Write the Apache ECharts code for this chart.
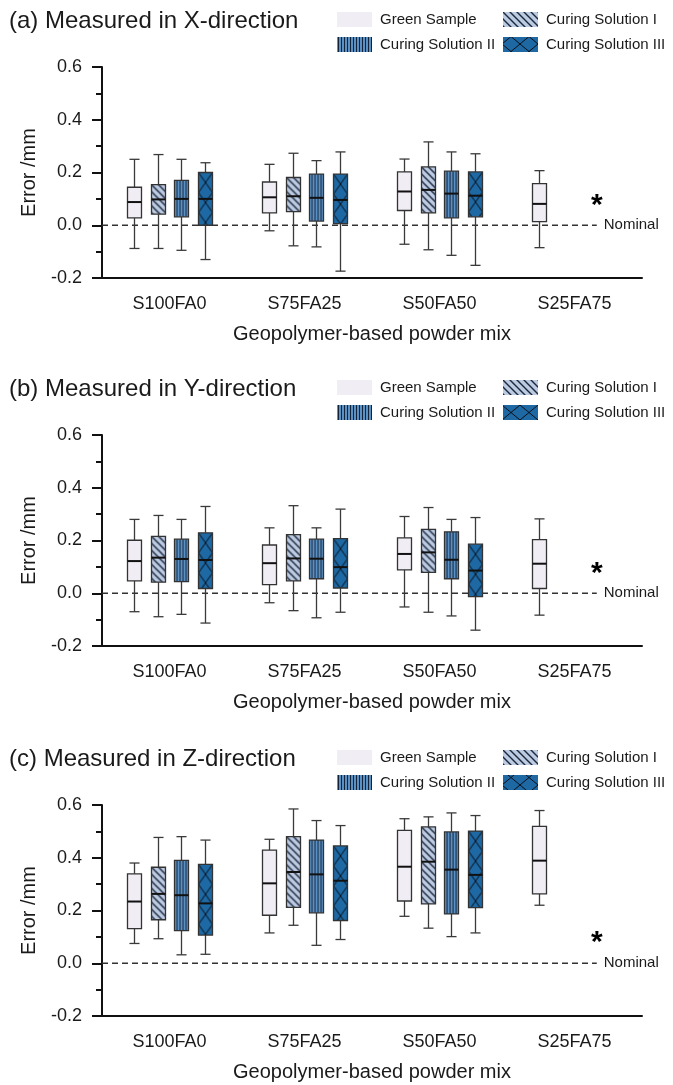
<!DOCTYPE html>
<html>
<head>
<meta charset="utf-8">
<script src="https://cdn.jsdelivr.net/npm/echarts@6/dist/echarts.min.js"></script>
<style>
  html, body {margin: 0; padding: 0; background: #fff;}
  #chart {width: 673px; height: 1085px;}
</style>
</head>
<body>
<div id="chart"></div>
<script>
const categories = ['S100FA0', 'S75FA25', 'S50FA50', 'S25FA75'];
const seriesNames = ['Green Sample', 'Curing Solution I', 'Curing Solution II', 'Curing Solution III'];
const panelTitles = ['(a) Measured in X-direction', '(b) Measured in Y-direction', '(c) Measured in Z-direction'];
const yTicks = [-0.2, 0.6, 0.2];

// [min, Q1, median, Q3, max]
const xGreen = [[-0.088, 0.028, 0.088, 0.144, 0.250], [-0.021, 0.047, 0.106, 0.164, 0.231], [-0.072, 0.056, 0.128, 0.202, 0.251], [-0.085, 0.014, 0.081, 0.158, 0.207]];
const xSolI = [[-0.088, 0.042, 0.098, 0.154, 0.268], [-0.078, 0.052, 0.110, 0.181, 0.273], [-0.093, 0.047, 0.134, 0.221, 0.316]];
const xSolII = [[-0.095, 0.032, 0.100, 0.170, 0.250], [-0.082, 0.016, 0.104, 0.194, 0.245], [-0.114, 0.028, 0.120, 0.205, 0.278]];
const xSolIII = [[-0.130, 0.000, 0.100, 0.200, 0.237], [-0.174, 0.006, 0.096, 0.194, 0.278], [-0.152, 0.032, 0.112, 0.202, 0.271]];

const yGreen = [[-0.070, 0.047, 0.122, 0.201, 0.280], [-0.036, 0.033, 0.114, 0.183, 0.248], [-0.052, 0.089, 0.149, 0.210, 0.291], [-0.083, 0.018, 0.112, 0.203, 0.282]];
const ySolI = [[-0.089, 0.042, 0.135, 0.216, 0.295], [-0.066, 0.047, 0.132, 0.222, 0.332], [-0.072, 0.079, 0.155, 0.242, 0.325]];
const ySolII = [[-0.080, 0.044, 0.130, 0.205, 0.280], [-0.093, 0.055, 0.131, 0.205, 0.248], [-0.086, 0.055, 0.127, 0.233, 0.280]];
const ySolIII = [[-0.113, 0.018, 0.126, 0.229, 0.329], [-0.072, 0.020, 0.099, 0.207, 0.319], [-0.140, -0.013, 0.086, 0.186, 0.287]];

const zGreen = [[0.075, 0.131, 0.234, 0.339, 0.380], [0.115, 0.182, 0.303, 0.429, 0.470], [0.178, 0.236, 0.366, 0.504, 0.548], [0.220, 0.263, 0.389, 0.519, 0.579]];
const zSolI = [[0.093, 0.165, 0.263, 0.364, 0.477], [0.144, 0.212, 0.346, 0.480, 0.585], [0.133, 0.225, 0.385, 0.517, 0.555]];
const zSolII = [[0.032, 0.124, 0.258, 0.390, 0.480], [0.068, 0.191, 0.337, 0.467, 0.541], [0.101, 0.187, 0.355, 0.498, 0.570]];
const zSolIII = [[0.034, 0.107, 0.227, 0.375, 0.467], [0.090, 0.162, 0.313, 0.445, 0.522], [0.115, 0.211, 0.335, 0.501, 0.560]];

// height of the "*" mark at S25FA75 in each panel
const starValues = [0.10, 0.10, 0.105];

const panelData = [
    [xGreen, xSolI, xSolII, xSolIII],
    [yGreen, ySolI, ySolII, ySolIII],
    [zGreen, zSolI, zSolII, zSolIII]
];

const gridTops = [67, 435, 805];
const font = "'Liberation Sans', Arial, sans-serif";
const textColor = '#1a1a1a';
const fills = ['#f1edf4', '#bccbe4', '#5b90c3', '#1e68a3'];

function makeCanvas(w, h, bg, draw) {
    let c = document.createElement('canvas');
    c.width = w;
    c.height = h;
    let ctx = c.getContext('2d');
    ctx.fillStyle = bg;
    ctx.fillRect(0, 0, w, h);
    ctx.strokeStyle = '#111a26';
    ctx.lineWidth = 1;
    draw(ctx);
    return c;
}

const diagCanvas = makeCanvas(7, 7, fills[1], ctx => {
    ctx.strokeStyle = '#1f2838';
    ctx.lineWidth = 1.4;
    ctx.beginPath();
    ctx.moveTo(-1, -1); ctx.lineTo(8, 8);
    ctx.moveTo(-1, 6); ctx.lineTo(1, 8);
    ctx.moveTo(6, -1); ctx.lineTo(8, 1);
    ctx.stroke();
});
const vertCanvas = makeCanvas(3, 4, fills[2], ctx => {
    ctx.fillStyle = '#13233a';
    ctx.fillRect(0, 0, 1, 4);
});
function crossCanvas(w, h) {
    return makeCanvas(w, h, fills[3], ctx => {
        ctx.strokeStyle = '#0a0f18';
        ctx.beginPath();
        ctx.moveTo(0, 0); ctx.lineTo(w, h);
        ctx.moveTo(w, 0); ctx.lineTo(0, h);
        ctx.stroke();
    });
}
const boxCross = crossCanvas(14, 20);
const legendCross = crossCanvas(18, 15);

function boxFill(slot, x, y) {
    if (slot === 0) return fills[0];
    if (slot === 1) return {image: diagCanvas, repeat: 'repeat', x: x, y: y};
    if (slot === 2) return {image: vertCanvas, repeat: 'repeat', x: x + 2, y: y};
    return {image: boxCross, repeat: 'repeat', x: x, y: y};
}

function boxRender(slot) {
    return function (params, api) {
        let cat = api.value(0);
        let band = api.size([1, 0])[0];
        let cx = Math.round(api.coord([cat, 0])[0] + (slot - 1.5) * band * 0.174) + 0.5;
        let bw = Math.round(band * 0.104);
        let y = i => api.coord([cat, api.value(i)])[1];
        let yMin = y(1), yQ1 = y(2), yMed = y(3), yQ3 = y(4), yMax = y(5);
        let cap = bw * 0.72;
        let left = cx - bw / 2;
        let line = {stroke: '#3a3a3a', lineWidth: 1.3};
        return {
            type: 'group',
            children: [
                {type: 'line', shape: {x1: cx, y1: yMax, x2: cx, y2: yQ3}, style: line},
                {type: 'line', shape: {x1: cx, y1: yQ1, x2: cx, y2: yMin}, style: line},
                {type: 'line', shape: {x1: cx - cap / 2, y1: yMax, x2: cx + cap / 2, y2: yMax}, style: line},
                {type: 'line', shape: {x1: cx - cap / 2, y1: yMin, x2: cx + cap / 2, y2: yMin}, style: line},
                {
                    type: 'rect',
                    shape: {x: left, y: yQ3, width: bw, height: yQ1 - yQ3},
                    style: {fill: boxFill(slot, left, yQ3), stroke: '#333', lineWidth: 1.3}
                },
                {type: 'line', shape: {x1: left, y1: yMed, x2: left + bw, y2: yMed}, style: {stroke: '#111', lineWidth: 2}}
            ]
        };
    };
}

function noteRender(params, api) {
    let band = api.size([1, 0])[0];
    let last = categories.length - 1;
    let x0 = api.coord([0, 0])[0] - band / 2;
    let p = api.coord([last, 0]);
    let xEnd = p[0] + band * 0.165;
    let star = api.coord([last, api.value(1)]);
    return {
        type: 'group',
        children: [
            {
                type: 'line',
                shape: {x1: x0, y1: p[1], x2: xEnd, y2: p[1]},
                style: {stroke: '#333', lineWidth: 1.3, lineDash: [6, 4]}
            },
            {
                type: 'text',
                x: xEnd + 7, y: p[1],
                style: {text: 'Nominal', fill: textColor, font: '15px ' + font, textVerticalAlign: 'middle', verticalAlign: 'middle'}
            },
            {
                type: 'text',
                x: star[0] + band * 0.165, y: star[1] + 7,
                style: {text: '*', fill: '#000', font: 'bold 30px ' + font, align: 'center', textAlign: 'center', verticalAlign: 'middle', textVerticalAlign: 'middle'}
            }
        ]
    };
}

let grids = [], xAxes = [], yAxes = [], titles = [], legends = [], series = [];

gridTops.forEach((top, p) => {
    grids.push({left: 102, right: 31, top: top, height: 211});
    titles.push({
        text: panelTitles[p], left: 9, top: top - 58, padding: 0,
        textStyle: {fontFamily: font, fontSize: 24, fontWeight: 'normal', color: textColor}
    });
    xAxes.push({
        type: 'category', gridIndex: p, data: categories,
        name: 'Geopolymer-based powder mix', nameLocation: 'middle', nameGap: 46,
        nameTextStyle: {fontFamily: font, fontSize: 20, color: textColor},
        axisLine: {onZero: false, lineStyle: {color: '#111', width: 2}},
        axisTick: {alignWithLabel: true, length: 10, lineStyle: {color: '#111', width: 2}},
        axisLabel: {fontFamily: font, fontSize: 18, color: textColor, margin: 17},
        splitLine: {show: false}
    });
    yAxes.push({
        type: 'value', gridIndex: p, min: yTicks[0], max: yTicks[1], interval: yTicks[2],
        name: 'Error /mm', nameLocation: 'middle', nameGap: 63,
        nameTextStyle: {fontFamily: font, fontSize: 20, color: textColor},
        axisLine: {show: true, onZero: false, lineStyle: {color: '#111', width: 2}},
        axisTick: {show: true, length: 10, lineStyle: {color: '#111', width: 2}},
        minorTick: {show: true, splitNumber: 2, length: 6, lineStyle: {color: '#111', width: 2}},
        axisLabel: {fontFamily: font, fontSize: 18, color: textColor, margin: 20, formatter: v => v.toFixed(1)},
        splitLine: {show: false}
    });

    let legendTop = top - 55;
    let legendText = {fontFamily: font, fontSize: 15, color: textColor, padding: [0, 0, 0, 3]};
    let iconStyle = (i, x, y) => {
        let color = fills[0];
        if (i === 1) color = {image: diagCanvas, repeat: 'repeat'};
        if (i === 2) color = {image: vertCanvas, repeat: 'repeat', x: x, y: y};
        if (i === 3) color = {image: legendCross, repeat: 'repeat', x: x, y: y};
        return {color: color, borderWidth: 0};
    };
    legends.push({
        orient: 'vertical', left: 337, top: legendTop, padding: 0, itemGap: 10,
        itemWidth: 35, itemHeight: 15, icon: 'rect', selectedMode: false, textStyle: legendText,
        data: [
            {name: seriesNames[0], itemStyle: iconStyle(0, 337, legendTop)},
            {name: seriesNames[2], itemStyle: iconStyle(2, 337, legendTop + 25)}
        ]
    });
    legends.push({
        orient: 'vertical', left: 503, top: legendTop, padding: 0, itemGap: 10,
        itemWidth: 35, itemHeight: 15, icon: 'rect', selectedMode: false, textStyle: legendText,
        data: [
            {name: seriesNames[1], itemStyle: iconStyle(1, 503, legendTop)},
            {name: seriesNames[3], itemStyle: iconStyle(3, 503, legendTop + 25)}
        ]
    });

    series.push({
        type: 'custom', xAxisIndex: p, yAxisIndex: p, silent: true,
        data: [[categories.length - 1, starValues[p]]],
        encode: {x: 0, y: 1},
        renderItem: noteRender
    });
    panelData[p].forEach((rows, s) => {
        series.push({
            type: 'custom', name: seriesNames[s], xAxisIndex: p, yAxisIndex: p,
            itemStyle: {color: fills[s]},
            data: rows.map((r, i) => [i].concat(r)),
            encode: {x: 0, y: [1, 2, 3, 4, 5]},
            renderItem: boxRender(s)
        });
    });
});

let chart = echarts.init(document.getElementById('chart'), null, {renderer: 'canvas'});
chart.setOption({
    animation: false,
    backgroundColor: '#fff',
    title: titles,
    legend: legends,
    grid: grids,
    xAxis: xAxes,
    yAxis: yAxes,
    tooltip: {show: false},
    series: series
});
</script>
</body>
</html>
